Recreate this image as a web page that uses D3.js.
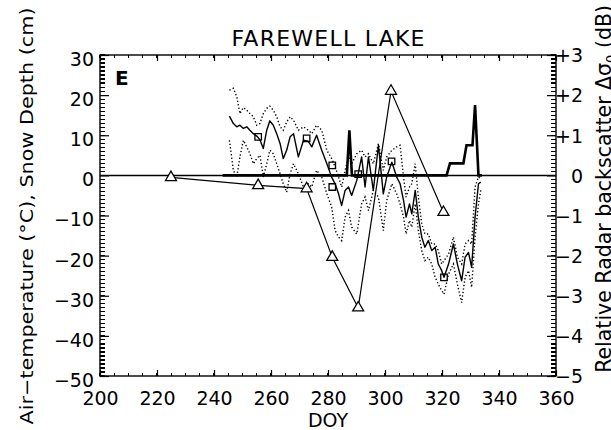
<!DOCTYPE html>
<html><head><meta charset="utf-8">
<script src="https://cdn.jsdelivr.net/npm/d3@7"></script>
<style>body{margin:0;background:#fff}svg{display:block}</style>
</head><body>
<svg id="c" width="611" height="430"></svg>
<script>
// ---------- data ----------
const tempDoy = [245.4,246.8,248,249.1,250.3,251.5,252.6,253.8,255,256.1,257.3,258.5,259.6,260.8,262,263.2,264.3,265.5,266.7,267.9,269.6,271.4,273.1,274.3,276,277.8,279.6,281.3,282.5,283.7,284.8,286,287.2,288.3,290.1,291.8,293,294.2,295.9,297.7,299.4,300.6,302.4,304.1,305.3,306.5,307.4,308.6,309.4,310.6,311.7,312.9,314,315.2,316.4,317.6,318.7,319.9,320.7,322.3,324,325.4,326.9,328.1,329.3,330.4,331.6,332.8,333.6];
const tempMean = [14.75,12.9,12.1,12.5,11.7,12.1,11.25,10.4,9.8,8.9,6.7,11.25,13.6,12.5,10.4,7.9,4.2,6.25,9.6,10.4,4.6,8.75,8.5,7.1,10,6.25,2.9,-0.5,-2.1,-4.6,-7.5,-3.75,-2.9,-5,-1.25,4.6,-2.9,4.6,-3.75,7.5,-4.6,-0.4,3.3,-0.4,-2.1,-6.25,-10.4,-7.1,-9.6,-3.75,-10.4,-15.4,-17.9,-16.25,-18.75,-17.9,-22.1,-23.75,-25.4,-22.1,-17.1,-22.1,-26.25,-20.4,-19.2,-22.9,-10.4,-2.1,-1.7];
const tempMax = [21.25,21.7,19.6,15.4,16.9,16.25,15.4,14.6,12.5,12.9,15.4,16.7,17.25,16.25,14.6,12.1,11.25,13.3,14.6,13.75,11.25,12.1,11.25,10.4,12.5,11.25,6.25,4.2,2.1,-0.4,-2.9,1.25,4.6,2.9,5.4,6.25,4.6,5.4,2.9,7.9,1.25,4.6,6.25,7.1,7.5,-0.4,-5.4,-2.9,-2.1,2.9,-5.4,-12.1,-14.6,-14.6,-17.1,-17.1,-18.75,-22.1,-21.25,-19.6,-15.4,-20.4,-22.1,-17.1,-16.25,-17.1,-2.9,-0.4,-0.8];
const tempMin = [8.75,1.25,-0.4,4.6,8.75,7.1,5.4,2.9,4.2,5,-0.4,2.9,6.25,5.4,2.9,0.4,-2.1,-4.2,0.4,2.9,0.4,-2.9,-2.1,-2.9,1.25,-0.4,-4.6,-7.9,-13.75,-15.4,-16.25,-10.4,-8.75,-12.9,-14.6,-7.1,-5.4,-8.75,-3.75,-5.4,-13.75,-6.25,-2.1,-4.6,-7.1,-10.4,-14.6,-11.25,-12.9,-7.1,-13.75,-18.75,-21.25,-20.4,-22.1,-25.4,-27.1,-28.75,-29.6,-24.6,-22.1,-27.1,-31.7,-25.4,-23.75,-27.9,-15.4,-7.1,-3.75];
const snowDoy = [243,286.6,287.5,288.4,321.6,322.8,327.5,328.6,330.7,331.6,332.8,334];
const snowDepth = [0,0,11.25,0,0,3,3,7.5,7.5,17.5,0,0];
const sarDoy = [224.9,255.5,272.5,281.5,290.6,302.1,320.5];
const sarDb = [-0.05,-0.25,-0.33,-2.04,-3.3,2.1,-0.92];
const acqDoy = [255.5,272.5,281.5,281.5,290.6,302.3,320.7];
const acqTemp = [9.6,9.2,2.5,-2.9,0.3,3.5,-25.4];
const xTicks = [200,220,240,260,280,300,320,340,360];
const leftTicks = [30,20,10,0,-10,-20,-30,-40,-50];
const rightTicks = [3,2,1,0,-1,-2,-3,-4,-5];
const titleText = "FAREWELL LAKE";
const panelLetter = "E";
const xLabel = "DOY";
const yLeftLabel = "Air\u2212temperature (\u00B0C), Snow Depth (cm)";

// ---------- chart ----------
const FONT = "DejaVu Sans";
const svg = d3.select("#c").attr("font-family", FONT);
const x = d3.scaleLinear().domain([200,360]).range([100,556]);
const yL = d3.scaleLinear().domain([-50,30]).range([376,55]);
const yR = d3.scaleLinear().domain([-5,3]).range([376,55]);

function styleAxis(g){
  g.select(".domain").remove();
  g.selectAll("line").attr("stroke","#000").attr("stroke-width",1.2);
  g.selectAll("text").attr("font-family",FONT).attr("font-size",19).attr("fill","#000");
}
const minorX = d3.range(200,361,5);
const minorY = d3.range(-50,31,1);

// minor tick combs (explicit lines)
const ticksG = svg.append("g").attr("stroke","#000").attr("stroke-width",1.2).attr("shape-rendering","crispEdges");
ticksG.selectAll(".mxb").data(minorX).enter().append("line")
  .attr("x1",d => x(d)).attr("x2",d => x(d)).attr("y1",yL(-50)).attr("y2",yL(-50)-3);
ticksG.selectAll(".mxt").data(minorX).enter().append("line")
  .attr("x1",d => x(d)).attr("x2",d => x(d)).attr("y1",yL(30)).attr("y2",yL(30)+3);
ticksG.selectAll(".myl").data(minorY).enter().append("line")
  .attr("x1",x(200)).attr("x2",x(200)+5).attr("y1",d => yL(d)).attr("y2",d => yL(d));
ticksG.selectAll(".myr").data(minorY.map(v => v/10)).enter().append("line")
  .attr("x1",x(360)-5).attr("x2",x(360)).attr("y1",d => yR(d)).attr("y2",d => yR(d));

// major axes
const gb = svg.append("g").attr("transform","translate(0,376)")
  .call(d3.axisBottom(x).tickValues(xTicks).tickSize(-6).tickFormat(d3.format("d")))
  .call(styleAxis);
gb.selectAll("text").attr("y",29).attr("dy",0);
svg.append("g").attr("transform","translate(0,55)")
  .call(d3.axisTop(x).tickValues(xTicks).tickSize(-6).tickFormat(""))
  .call(styleAxis);
const gl = svg.append("g").attr("transform","translate(100,0)")
  .call(d3.axisLeft(yL).tickValues(leftTicks).tickSize(-9).tickPadding(6)
    .tickFormat(d => d < 0 ? "\u2212" + (-d) : String(d)))
  .call(styleAxis);
gl.selectAll("text").attr("dy","0.55em");
const gr = svg.append("g").attr("transform","translate(556,0)")
  .call(d3.axisRight(yR).tickValues(rightTicks).tickSize(-9)
    .tickFormat(d => d > 0 ? "+" + d : d < 0 ? "\u2212" + (-d) : "0"))
  .call(styleAxis);
gr.selectAll("text").attr("text-anchor","end").attr("x",27).attr("dy","0.36em");

// frame
svg.append("rect").attr("x",x(200)).attr("y",yL(30))
  .attr("width",x(360)-x(200)).attr("height",yL(-50)-yL(30))
  .attr("fill","none").attr("stroke","#000").attr("stroke-width",1.4);

// zero line
svg.append("line").attr("x1",x(200)).attr("x2",x(360)).attr("y1",yL(0)).attr("y2",yL(0))
  .attr("stroke","#000").attr("stroke-width",1.5);

const lineL = d3.line().x(d => x(d[0])).y(d => yL(d[1]));
const zip = (a,b) => a.map((v,i) => [v,b[i]]);

svg.append("path").attr("d",lineL(zip(tempDoy,tempMax)))
  .attr("fill","none").attr("stroke","#000").attr("stroke-width",1.4).attr("stroke-dasharray","1.3,2.2");
svg.append("path").attr("d",lineL(zip(tempDoy,tempMin)))
  .attr("fill","none").attr("stroke","#000").attr("stroke-width",1.4).attr("stroke-dasharray","1.3,2.2");
svg.append("path").attr("d",lineL(zip(tempDoy,tempMean)))
  .attr("fill","none").attr("stroke","#000").attr("stroke-width",1.4).attr("stroke-linejoin","round");
svg.append("path").attr("d",lineL(zip(snowDoy,snowDepth)))
  .attr("fill","none").attr("stroke","#000").attr("stroke-width",2.6).attr("stroke-linejoin","miter");

// backscatter
const lineR = d3.line().x(d => x(d[0])).y(d => yR(d[1]));
svg.append("path").attr("d",lineR(zip(sarDoy,sarDb)))
  .attr("fill","none").attr("stroke","#000").attr("stroke-width",1.2);
svg.selectAll(".tri").data(zip(sarDoy,sarDb)).enter().append("path")
  .attr("transform",d => `translate(${x(d[0])},${yR(d[1])})`)
  .attr("d",d3.symbol(d3.symbolTriangle,52))
  .attr("fill","#fff").attr("stroke","#000").attr("stroke-width",1.3);
svg.selectAll(".sq").data(zip(acqDoy,acqTemp)).enter().append("path")
  .attr("transform",d => `translate(${x(d[0])},${yL(d[1])})`)
  .attr("d",d3.symbol(d3.symbolSquare,42))
  .attr("fill","none").attr("stroke","#000").attr("stroke-width",1.3);

// texts
svg.append("text").attr("x",328).attr("y",46).attr("text-anchor","middle")
  .attr("font-size",22).attr("textLength",193).attr("lengthAdjust","spacing").text(titleText);
svg.append("text").attr("x",115).attr("y",85).attr("font-size",20).attr("font-weight","bold").text(panelLetter);
svg.append("text").attr("x",328).attr("y",427).attr("text-anchor","middle").attr("font-size",19).text(xLabel);
svg.append("text").attr("transform","translate(33,216) rotate(-90)").attr("text-anchor","middle")
  .attr("font-size",18).attr("textLength",417).attr("lengthAdjust","spacingAndGlyphs").text(yLeftLabel);
const rl = svg.append("text").attr("transform","translate(611,5) rotate(-90)").attr("text-anchor","end")
  .attr("font-size",20.5);
rl.append("tspan").text("Relative Radar backscatter \u0394\u03C3");
rl.append("tspan").attr("font-size",13).attr("dy",4).text("0");
rl.append("tspan").attr("dy",-4).text(" (dB)");
</script>
</body></html>
